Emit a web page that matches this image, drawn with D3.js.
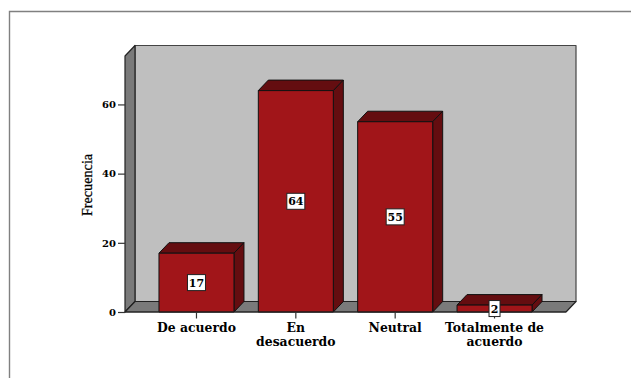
<!DOCTYPE html>
<html>
<head>
<meta charset="utf-8">
<script src="https://cdn.jsdelivr.net/npm/d3@7"></script>
<style>
  html, body { margin: 0; padding: 0; background: #fff; overflow: hidden; }
  svg { display: block; }
  text { font-family: "DejaVu Serif", serif; font-weight: bold; fill: #000; }
  text.axis-title { font-family: "Liberation Serif", serif; font-weight: normal; stroke: #000; stroke-width: 0.25px; }
</style>
</head>
<body>
<svg id="chart" width="631" height="378"></svg>
<script>
const categories = ["De acuerdo", "En desacuerdo", "Neutral", "Totalmente de acuerdo"];
const categoryLines = [["De acuerdo"], ["En", "desacuerdo"], ["Neutral"], ["Totalmente de", "acuerdo"]];
const frequencies = [17, 64, 55, 2];
const yTicks = [0, 20, 40, 60];
const yDomainMax = 74;
const yAxisTitle = "Frecuencia";
const titleTail = "g";

const colors = {
  wall: "#bfbfbf", side: "#7a7a7a", bar: "#a11519", barDark: "#640d10",
  line: "#111", frame: "#808080"
};
const W = 631, H = 378;
// Front face of the plot box and the offset of its back wall
const plotLeft = 125, plotRight = 566, plotTop = 56, plotBase = 312;
const dx = 10, dy = -10.5;

const svg = d3.select("#chart");
const x = d3.scaleBand().domain(categories).range([plotLeft, plotRight])
  .paddingInner(0.245).paddingOuter(0.342);
const y = d3.scaleLinear().domain([0, yDomainMax]).range([plotBase, plotTop]);

const poly = (pts, fill, stroke = colors.line, sw = 1) =>
  svg.append("polygon").attr("points", pts.map(p => p.join(",")).join(" "))
    .attr("fill", fill).attr("stroke", stroke).attr("stroke-width", sw)
    .attr("stroke-linejoin", "round");

// Outer chart frame, open towards the bottom and right edges
svg.append("path").attr("d", `M9.5,${H} V11.5 H${W}`)
  .attr("fill", "none").attr("stroke", colors.frame).attr("stroke-width", 1.4);

// Tail of the heading, which runs off the top edge
svg.append("text").attr("x", 245).attr("y", -2.6).attr("text-anchor", "middle")
  .attr("font-size", 12).text(titleTail);

// Back wall, left wall and floor
poly([[plotLeft + dx, plotTop + dy], [plotRight + dx, plotTop + dy], [plotRight + dx, plotBase + dy], [plotLeft + dx, plotBase + dy]], colors.wall, "#444", 1.2);
poly([[plotLeft, plotTop], [plotLeft + dx, plotTop + dy], [plotLeft + dx, plotBase + dy], [plotLeft, plotBase]], colors.side, "#222", 1.2);
poly([[plotLeft, plotBase], [plotLeft + dx, plotBase + dy], [plotRight + dx, plotBase + dy], [plotRight, plotBase]], colors.side, "#222", 1.2);

// Extruded bars
categories.forEach((c, i) => {
  const x0 = x(c), x1 = x0 + x.bandwidth(), yv = y(frequencies[i]);
  poly([[x0, yv], [x0 + dx, yv + dy], [x1 + dx, yv + dy], [x1, yv]], colors.barDark);
  poly([[x1, yv], [x1 + dx, yv + dy], [x1 + dx, plotBase + dy], [x1, plotBase]], colors.barDark);
  poly([[x0, yv], [x1, yv], [x1, plotBase], [x0, plotBase]], colors.bar);
});

// Baseline along the front of the floor
svg.append("line").attr("x1", plotLeft).attr("x2", plotRight).attr("y1", plotBase).attr("y2", plotBase)
  .attr("stroke", "#222").attr("stroke-width", 1.2);

// Y axis ticks and labels
const yAxis = svg.append("g").attr("transform", `translate(${plotLeft},0)`)
  .call(d3.axisLeft(y).tickValues(yTicks).tickSize(7).tickPadding(2));
yAxis.select(".domain").remove();
yAxis.selectAll("line").attr("stroke", "#333").attr("stroke-width", 1.2);
yAxis.selectAll("text").style("font-size", "10px").style("font-family", '"DejaVu Serif", serif');

// X axis ticks; the tick labels wrap on the lines listed above
const xAxis = svg.append("g").attr("transform", `translate(0,${plotBase})`)
  .call(d3.axisBottom(x).tickSize(6.5).tickFormat(""));
xAxis.select(".domain").remove();
xAxis.selectAll("line").attr("stroke", "#333").attr("stroke-width", 1.2);

categories.forEach((c, i) => {
  const t = svg.append("text").attr("text-anchor", "middle").attr("font-size", 12.4);
  categoryLines[i].forEach((line, j) => {
    t.append("tspan").attr("x", x(c) + x.bandwidth() / 2)
      .attr("y", 332 + j * 13.5).text(line);
  });
});

// Value labels in white boxes, centred on each bar
categories.forEach((c, i) => {
  const v = frequencies[i];
  const cx = x(c) + x.bandwidth() / 2;
  const cy = (y(v) + plotBase) / 2;
  const bw = String(v).length > 1 ? 18 : 11, bh = 16;
  svg.append("rect").attr("x", cx - bw / 2).attr("y", cy - bh / 2)
    .attr("width", bw).attr("height", bh)
    .attr("fill", "#fff").attr("stroke", "#222").attr("stroke-width", 1);
  svg.append("text").attr("x", cx).attr("y", cy + 4).attr("text-anchor", "middle")
    .attr("font-size", 11).text(v);
});

// Y axis title
svg.append("text").attr("class", "axis-title").attr("transform", "translate(92,185) rotate(-90)")
  .attr("text-anchor", "middle").attr("font-size", 14.2)
  .text(yAxisTitle);
</script>
</body>
</html>
